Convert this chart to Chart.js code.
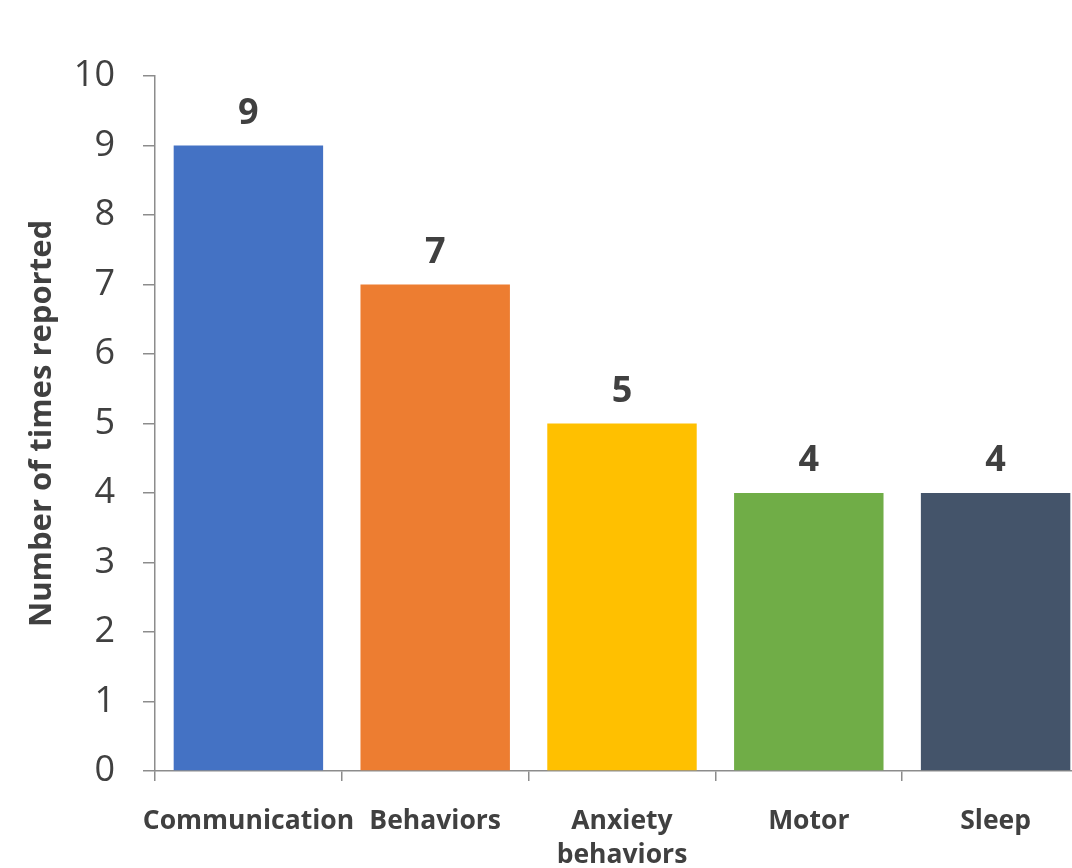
<!DOCTYPE html>
<html>
<head>
<meta charset="utf-8">
<script src="https://cdn.jsdelivr.net/npm/chart.js@4"></script>
<style>
  html, body { margin: 0; padding: 0; overflow: hidden; background: #ffffff; }
  canvas { display: block; }
</style>
</head>
<body>
<canvas id="c" width="1090" height="868"></canvas>
<script>
const categories = ['Communication', 'Behaviors', ['Anxiety', 'behaviors'], 'Motor', 'Sleep'];
const counts = [9, 7, 5, 4, 4];
const barColors = ['#4472C4', '#ED7D31', '#FFC000', '#70AD47', '#44546A'];
const yTicks = [0, 1, 2, 3, 4, 5, 6, 7, 8, 9, 10];
const yTitle = 'Number of times reported';

const axisColor = '#8c8c8c';
const textColor = '#404040';

const valueLabels = {
  id: 'valueLabels',
  afterDatasetsDraw(chart) {
    const ctx = chart.ctx;
    const meta = chart.getDatasetMeta(0);
    ctx.save();
    ctx.font = 'bold 36px "Open Sans"';
    ctx.fillStyle = textColor;
    ctx.textAlign = 'center';
    ctx.textBaseline = 'middle';
    meta.data.forEach((bar, i) => {
      ctx.fillText(String(counts[i]), bar.x, bar.y - 32);
    });
    ctx.restore();
  }
};

new Chart(document.getElementById('c'), {
  type: 'bar',
  data: {
    labels: categories,
    datasets: [{
      data: counts,
      backgroundColor: barColors,
      borderWidth: 0,
      categoryPercentage: 1.0,
      barPercentage: 0.8
    }]
  },
  options: {
    responsive: false,
    animation: false,
    devicePixelRatio: 1,
    layout: { padding: { top: 76, right: 1, left: 0, bottom: 0 } },
    plugins: {
      legend: { display: false },
      tooltip: { enabled: false }
    },
    scales: {
      y: {
        min: 0,
        max: 10,
        afterBuildTicks(scale) { scale.ticks = yTicks.map(v => ({ value: v })); },
        afterFit(scale) { scale.width = 155; },
        border: { display: true, color: axisColor, width: 1.5 },
        grid: { display: true, drawOnChartArea: false, drawTicks: true, tickLength: 12, color: axisColor, lineWidth: 1.5 },
        ticks: {
          padding: 28,
          color: textColor,
          font: { family: '"Open Sans"', size: 36, weight: 'normal' }
        },
        title: {
          display: true,
          text: yTitle,
          color: textColor,
          padding: { top: 24, bottom: 0 },
          font: { family: '"Open Sans"', size: 31, weight: 'bold' }
        }
      },
      x: {
        afterFit(scale) { scale.height = 97; },
        border: { display: true, color: axisColor, width: 1.5 },
        grid: { display: true, offset: true, drawOnChartArea: false, drawTicks: true, tickLength: 10, color: axisColor, lineWidth: 1.5 },
        ticks: {
          padding: 23,
          maxRotation: 0,
          autoSkip: false,
          color: textColor,
          font: { family: '"Open Sans"', size: 26.5, weight: 'bold', lineHeight: 1.3 }
        }
      }
    }
  },
  plugins: [valueLabels]
});
</script>
</body>
</html>
